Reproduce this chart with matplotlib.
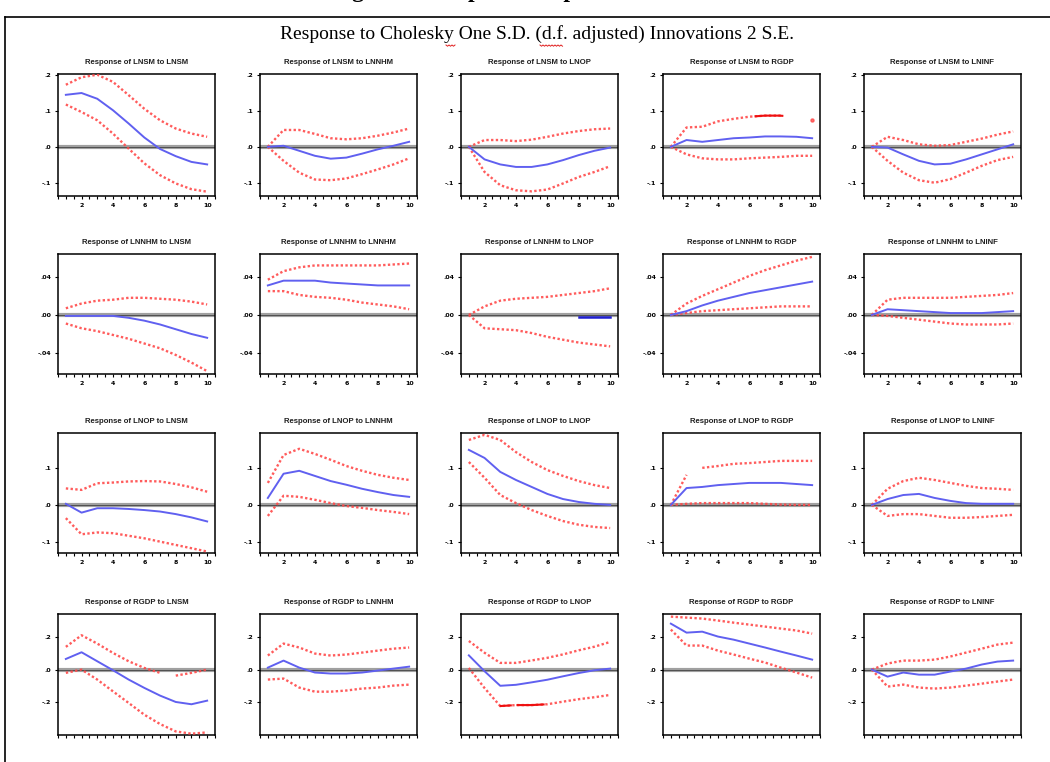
import matplotlib
matplotlib.use("Agg")
import matplotlib.pyplot as plt
import numpy as np

# shocks (columns) and responding variables (rows)
shocks = ["LNSM", "LNNHM", "LNOP", "RGDP", "LNINF"]
responses = ["LNSM", "LNNHM", "LNOP", "RGDP"]
periods = np.arange(1, 11)

# row 1: response of LNSM
irf_lnsm = [
    [0.145, 0.150, 0.134, 0.102, 0.065, 0.026, -0.006, -0.026, -0.042, -0.049],
    [0.0, 0.003, -0.011, -0.025, -0.033, -0.030, -0.019, -0.007, 0.003, 0.014],
    [0.0, -0.035, -0.049, -0.056, -0.056, -0.049, -0.037, -0.023, -0.011, -0.002],
    [0.0, 0.019, 0.014, 0.019, 0.024, 0.026, 0.029, 0.029, 0.028, 0.024],
    [0.0, -0.002, -0.021, -0.039, -0.049, -0.047, -0.035, -0.021, -0.007, 0.007],
]
up_lnsm = [
    [0.173, 0.194, 0.201, 0.181, 0.144, 0.106, 0.074, 0.051, 0.037, 0.028],
    [0.0, 0.047, 0.047, 0.036, 0.024, 0.021, 0.024, 0.031, 0.040, 0.051],
    [0.0, 0.019, 0.019, 0.016, 0.020, 0.028, 0.037, 0.044, 0.049, 0.051],
    [0.0, 0.054, 0.056, 0.071, 0.078, 0.084, 0.087, 0.087, np.nan, 0.076],
    [0.0, 0.028, 0.019, 0.007, 0.003, 0.005, 0.014, 0.023, 0.034, 0.043],
]
lo_lnsm = [
    [0.118, 0.097, 0.074, 0.037, -0.005, -0.046, -0.079, -0.102, -0.118, -0.125],
    [0.0, -0.039, -0.072, -0.091, -0.093, -0.088, -0.076, -0.063, -0.049, -0.032],
    [0.0, -0.070, -0.107, -0.121, -0.124, -0.119, -0.102, -0.084, -0.070, -0.054],
    [0.0, -0.021, -0.032, -0.035, -0.035, -0.032, -0.030, -0.028, -0.025, -0.025],
    [0.0, -0.039, -0.072, -0.093, -0.100, -0.090, -0.072, -0.053, -0.037, -0.028],
]

# row 2: response of LNNHM
irf_lnnhm = [
    [-0.001, -0.001, -0.001, -0.001, -0.003, -0.006, -0.010, -0.015, -0.020, -0.024],
    [0.031, 0.036, 0.036, 0.036, 0.034, 0.033, 0.032, 0.031, 0.031, 0.031],
    [np.nan, np.nan, np.nan, np.nan, np.nan, np.nan, np.nan, -0.0025, -0.0025, -0.0025],
    [0.0, 0.004, 0.010, 0.015, 0.019, 0.023, 0.026, 0.029, 0.032, 0.035],
    [0.0, 0.006, 0.005, 0.004, 0.003, 0.002, 0.002, 0.002, 0.003, 0.004],
]
up_lnnhm = [
    [0.007, 0.012, 0.015, 0.016, 0.018, 0.018, 0.017, 0.016, 0.014, 0.011],
    [0.037, 0.046, 0.050, 0.052, 0.052, 0.052, 0.052, 0.052, 0.053, 0.054],
    [0.0, 0.009, 0.015, 0.017, 0.018, 0.019, 0.021, 0.023, 0.025, 0.028],
    [0.0, 0.012, 0.020, 0.027, 0.034, 0.041, 0.047, 0.052, 0.057, 0.061],
    [0.0, 0.016, 0.018, 0.018, 0.018, 0.018, 0.019, 0.020, 0.021, 0.023],
]
lo_lnnhm = [
    [-0.009, -0.014, -0.017, -0.021, -0.025, -0.030, -0.035, -0.042, -0.050, -0.059],
    [0.025, 0.025, 0.021, 0.019, 0.018, 0.016, 0.013, 0.011, 0.009, 0.006],
    [0.0, -0.014, -0.015, -0.016, -0.019, -0.023, -0.026, -0.029, -0.031, -0.033],
    [0.0, 0.002, 0.004, 0.005, 0.006, 0.007, 0.008, 0.009, 0.009, 0.009],
    [0.0, -0.001, -0.003, -0.005, -0.007, -0.009, -0.010, -0.010, -0.010, -0.009],
]

# row 3: response of LNOP
irf_lnop = [
    [0.003, -0.021, -0.009, -0.009, -0.011, -0.014, -0.018, -0.025, -0.034, -0.045],
    [0.019, 0.085, 0.093, 0.079, 0.065, 0.055, 0.044, 0.035, 0.027, 0.022],
    [0.150, 0.128, 0.090, 0.068, 0.049, 0.030, 0.016, 0.008, 0.003, 0.0],
    [0.0, 0.046, 0.049, 0.054, 0.057, 0.060, 0.060, 0.060, 0.057, 0.054],
    [0.0, 0.016, 0.027, 0.030, 0.019, 0.011, 0.005, 0.003, 0.003, 0.003],
]
up_lnop = [
    [0.045, 0.041, 0.059, 0.061, 0.064, 0.065, 0.064, 0.057, 0.048, 0.036],
    [0.060, 0.136, 0.153, 0.139, 0.123, 0.106, 0.093, 0.082, 0.074, 0.068],
    [0.177, 0.191, 0.177, 0.144, 0.117, 0.095, 0.079, 0.065, 0.054, 0.046],
    [0.0, 0.082, 0.101, 0.106, 0.112, 0.114, 0.117, 0.120, 0.120, 0.120],
    [0.0, 0.044, 0.065, 0.074, 0.068, 0.060, 0.052, 0.046, 0.044, 0.041],
]
lo_lnop = [
    [-0.036, -0.080, -0.075, -0.077, -0.084, -0.091, -0.100, -0.109, -0.118, -0.127],
    [-0.030, 0.025, 0.022, 0.014, 0.005, -0.003, -0.008, -0.014, -0.019, -0.025],
    [0.117, 0.074, 0.027, 0.005, -0.014, -0.030, -0.044, -0.054, -0.060, -0.063],
    [0.0, 0.003, 0.005, 0.005, 0.005, 0.005, 0.003, 0.001, 0.0, 0.0],
    [0.0, -0.030, -0.025, -0.025, -0.030, -0.035, -0.035, -0.033, -0.030, -0.027],
]

# row 4: response of RGDP
irf_rgdp = [
    [0.065, 0.106, 0.051, -0.004, -0.061, -0.112, -0.159, -0.198, -0.212, -0.190],
    [0.012, 0.055, 0.012, -0.018, -0.024, -0.024, -0.018, -0.006, 0.006, 0.018],
    [0.087, -0.010, -0.099, -0.093, -0.078, -0.062, -0.041, -0.021, -0.004, 0.006],
    [0.281, 0.226, 0.232, 0.202, 0.183, 0.159, 0.135, 0.110, 0.086, 0.061],
    [0.0, -0.043, -0.018, -0.031, -0.031, -0.012, 0.006, 0.031, 0.049, 0.055],
]
up_rgdp = [
    [0.139, 0.210, 0.159, 0.102, 0.051, 0.010, -0.020, -0.037, -0.020, 0.0],
    [0.086, 0.159, 0.135, 0.098, 0.086, 0.092, 0.104, 0.116, 0.128, 0.135],
    [0.175, 0.103, 0.041, 0.041, 0.056, 0.072, 0.093, 0.118, 0.140, 0.169],
    [0.324, 0.318, 0.312, 0.300, 0.287, 0.275, 0.263, 0.251, 0.239, 0.220],
    [0.0, 0.037, 0.055, 0.055, 0.061, 0.080, 0.104, 0.128, 0.153, 0.165],
]
lo_rgdp = [
    [-0.020, 0.0, -0.061, -0.133, -0.204, -0.276, -0.333, -0.378, -0.392, -0.384],
    [-0.061, -0.055, -0.110, -0.135, -0.135, -0.128, -0.116, -0.110, -0.098, -0.092],
    [0.010, -0.113, -0.223, -0.217, -0.217, -0.212, -0.196, -0.181, -0.169, -0.155],
    [0.245, 0.147, 0.147, 0.116, 0.092, 0.067, 0.043, 0.012, -0.018, -0.049],
    [0.0, -0.104, -0.092, -0.110, -0.116, -0.110, -0.098, -0.086, -0.073, -0.061],
]

irfs = [irf_lnsm, irf_lnnhm, irf_lnop, irf_rgdp]
uppers = [up_lnsm, up_lnnhm, up_lnop, up_rgdp]
lowers = [lo_lnsm, lo_lnnhm, lo_lnop, lo_rgdp]

ylims = [(-0.137, 0.203), (-0.062, 0.064), (-0.131, 0.196), (-0.40, 0.34)]
yticks = [[-0.1, 0.0, 0.1, 0.2], [-0.04, 0.0, 0.04], [-0.1, 0.0, 0.1], [-0.2, 0.0, 0.2]]
yticklabels = [["-.1", ".0", ".1", ".2"], ["-.04", ".00", ".04"], ["-.1", ".0", ".1"], ["-.2", ".0", ".2"]]

# drawing glitches in the original export
breaks = {(2, 3, "up"): [1], (3, 0, "up"): [6]}      # gap after this index
solid_red = {(0, 3, "up"): [(6.4, 8.1)], (3, 2, "lo"): [(3.03, 3.67), (4.1, 5.76)]}

RED = "#ff4a4a"
BLUE = "#6060f0"

W, H = 1050, 762
fig = plt.figure(figsize=(W / 100, H / 100), dpi=100)

col_left = [58, 260, 461, 663, 864]
row_top = [74, 254, 433, 614]
row_h = [122, 120, 120, 121]
ax_w = 157


def band(ax, x, y, key):
    y = np.asarray(y, dtype=float)
    xx = x.astype(float)
    for b in sorted(breaks.get(key, []), reverse=True):
        xx = np.insert(xx, b + 1, np.nan)
        y = np.insert(y, b + 1, np.nan)
    ax.plot(xx, y, color=RED, lw=1.7, ls=(0, (1, 1.0)), alpha=0.9, zorder=3)
    # lone points left by gaps
    for i in range(len(y)):
        left = np.isnan(y[i - 1]) if i > 0 else True
        right = np.isnan(y[i + 1]) if i < len(y) - 1 else True
        if not np.isnan(y[i]) and left and right:
            ax.plot(xx[i], y[i], "o", color=RED, ms=2.2, alpha=0.8, zorder=3)


for r in range(4):
    for c in range(5):
        top = row_top[r]
        ax = fig.add_axes([col_left[c] / W, 1 - (top + row_h[r]) / H, ax_w / W, row_h[r] / H])
        ax.axhline(0, color="#a0a0a0", lw=3.0, zorder=1)
        ax.axhline(0, color="#505050", lw=0.7, zorder=1)

        blue = np.asarray(irfs[r][c], dtype=float)
        if (r, c) == (1, 2):
            ax.plot(periods, blue, color="#2020d0", lw=1.8, zorder=4)
        else:
            ax.plot(periods, blue, color=BLUE, lw=1.4, zorder=4)

        band(ax, periods, uppers[r][c], (r, c, "up"))
        band(ax, periods, lowers[r][c], (r, c, "lo"))

        for kind, src in (("up", uppers), ("lo", lowers)):
            yy = np.asarray(src[r][c], dtype=float)
            ok = ~np.isnan(yy)
            for x0, x1 in solid_red.get((r, c, kind), []):
                xs = np.linspace(x0, x1, 10)
                ax.plot(xs, np.interp(xs, periods[ok], yy[ok]), color="#ee1010", lw=1.5, zorder=5)

        ax.set_xlim(0.5, 10.5)
        ax.set_ylim(*ylims[r])
        ax.set_xticks([2, 4, 6, 8, 10])
        ax.set_xticks(np.arange(0.5, 10.6, 0.5), minor=True)
        if r < 3:
            ax.set_xticklabels(["2", "4", "6", "8", "10"])
        else:
            ax.set_xticklabels([])
        ax.set_yticks(yticks[r])
        ax.set_yticklabels(yticklabels[r])
        ax.tick_params(which="both", direction="out", length=2.5, width=0.8, labelsize=4.5, pad=2.5)
        ax.tick_params(which="minor", length=2.0)
        for lab in ax.get_xticklabels() + ax.get_yticklabels():
            lab.set_fontweight("bold")
        for sp in ax.spines.values():
            sp.set_linewidth(1.1)
        ax.set_title(f"Response of {responses[r]} to {shocks[c]}", fontsize=5.6,
                     family="Liberation Sans", fontweight="bold", color="#202020", pad=7)

# page frame and cut-off caption above it
fig.add_artist(plt.Line2D([5 / W, 1.0], [1 - 17 / H, 1 - 17 / H], color="black", lw=1.2))
fig.add_artist(plt.Line2D([5 / W, 5 / W], [0, 1 - 17 / H], color="black", lw=1.2))
fig.text(331 / W, 1 + 3 / H, "Figure 4.3 Impulse Response Function", family="Liberation Serif",
         fontsize=17, fontweight="bold", va="baseline", ha="left")

fig.text(537 / W, 1 - 34 / H, "Response to Cholesky One S.D. (d.f. adjusted) Innovations 2 S.E.",
         family="Liberation Serif", fontsize=14, ha="center", va="center")

# red spell-check squiggles under the title ("y" of Cholesky and "d.f.")
for x0, x1 in [(446, 455), (540, 562)]:
    xs = np.arange(x0, x1 + 1, 1.5)
    ys = 45 + 1.2 * (np.arange(len(xs)) % 2)
    fig.add_artist(plt.Line2D(xs / W, 1 - ys / H, color="#e02020", lw=0.7))

fig.savefig("out.png", dpi=100)
